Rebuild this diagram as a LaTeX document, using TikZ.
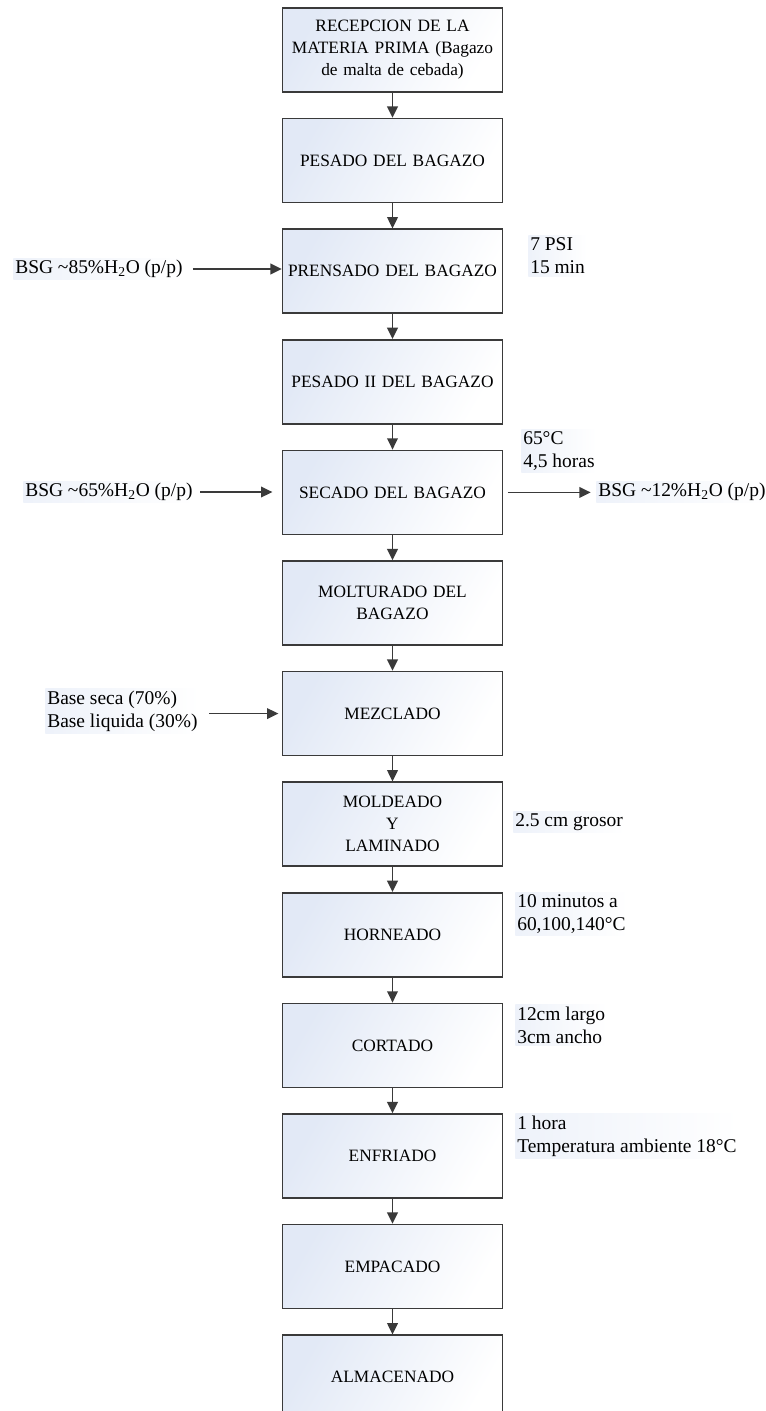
\documentclass[tikz,border=0pt]{standalone}
\usepackage{fontspec}
\setmainfont{Liberation Serif}
\usetikzlibrary{arrows.meta, positioning}
\definecolor{flowgray}{HTML}{3A3A3A}
\definecolor{flowblue}{HTML}{E2E9F6}

\tikzset{
  stagebox/.style={draw=flowgray, line width=1.2pt, minimum width=165pt,
    minimum height=63pt, text width=164pt, align=center, inner sep=0pt,
    left color=flowblue, right color=white, shading angle=60,
    font=\fontsize{13}{16.5}\selectfont},
  flowarrow/.style={-{Triangle[length=8.5pt, width=8pt]}, draw=flowgray,
    line width=1.3pt},
  sidenote/.style={anchor=west, align=left, inner sep=1.5pt,
    left color=flowblue!60, right color=white,
    font=\fontsize{14.6}{17.3}\selectfont}
}

\begin{document}
\begin{tikzpicture}[x=0.75pt, y=-0.75pt]
  \useasboundingbox[fill=white] (0,0) rectangle (766,1411);
  % process stages, top to bottom
  \foreach \txt [count=\i] in {
      {RECEPCION DE LA\\MATERIA PRIMA (Bagazo\\de malta de cebada)},
      {PESADO DEL BAGAZO}, {PRENSADO DEL BAGAZO}, {PESADO II DEL BAGAZO},
      {SECADO DEL BAGAZO}, {MOLTURADO DEL\\BAGAZO}, {MEZCLADO},
      {MOLDEADO\\Y\\LAMINADO}, {HORNEADO}, {CORTADO}, {ENFRIADO},
      {EMPACADO}, {ALMACENADO}} {
    \node[stagebox] (s\i) at (392.5, {50 + 110.6*(\i-1)}) {\txt};
  }
  \foreach \i in {1,...,12} {
    \pgfmathtruncatemacro\j{\i+1}
    \draw[flowarrow] (s\i.south) -- (s\j.north);
  }

  % inputs, outputs and conditions
  \node[sidenote] (inPrensado) at (13, 269) {BSG \textasciitilde85\%H\textsubscript{2}O (p/p)};
  \node[sidenote] (condPrensado) at (528, 256) {7 PSI\\15 min};
  \node[sidenote] (inSecado) at (23, 492) {BSG \textasciitilde65\%H\textsubscript{2}O (p/p)};
  \node[sidenote] (condSecado) at (521, 451) {65°C\\4,5 horas};
  \node[sidenote] (outSecado) at (596, 492) {BSG \textasciitilde12\%H\textsubscript{2}O (p/p)};
  \node[sidenote] (inMezcla) at (45, 711) {Base seca (70\%)\\Base liquida (30\%)};
  \node[sidenote] (condMoldeo) at (513, 822) {2.5 cm grosor};
  \node[sidenote] (condHorneo) at (515, 914) {10 minutos a\\60,100,140°C};
  \node[sidenote] (condCorte) at (515, 1025) {12cm largo\\3cm ancho};
  \node[sidenote] (condEnfriado) at (515, 1136) {1 hora\\Temperatura ambiente 18°C};

  \draw[flowarrow, shorten <=6pt] (inPrensado.east) -- (inPrensado.east -| s3.west);
  \draw[flowarrow, shorten <=4pt, shorten >=7pt] (inSecado.east) -- (inSecado.east -| s5.west);
  \draw[flowarrow, shorten <=3.5pt, shorten >=4pt] (s5.east) -- (s5.east -| outSecado.west);
  \draw[flowarrow, shorten <=7pt, shorten >=2.5pt] (inMezcla.east |- s7) -- (s7.west);
\end{tikzpicture}
\end{document}
